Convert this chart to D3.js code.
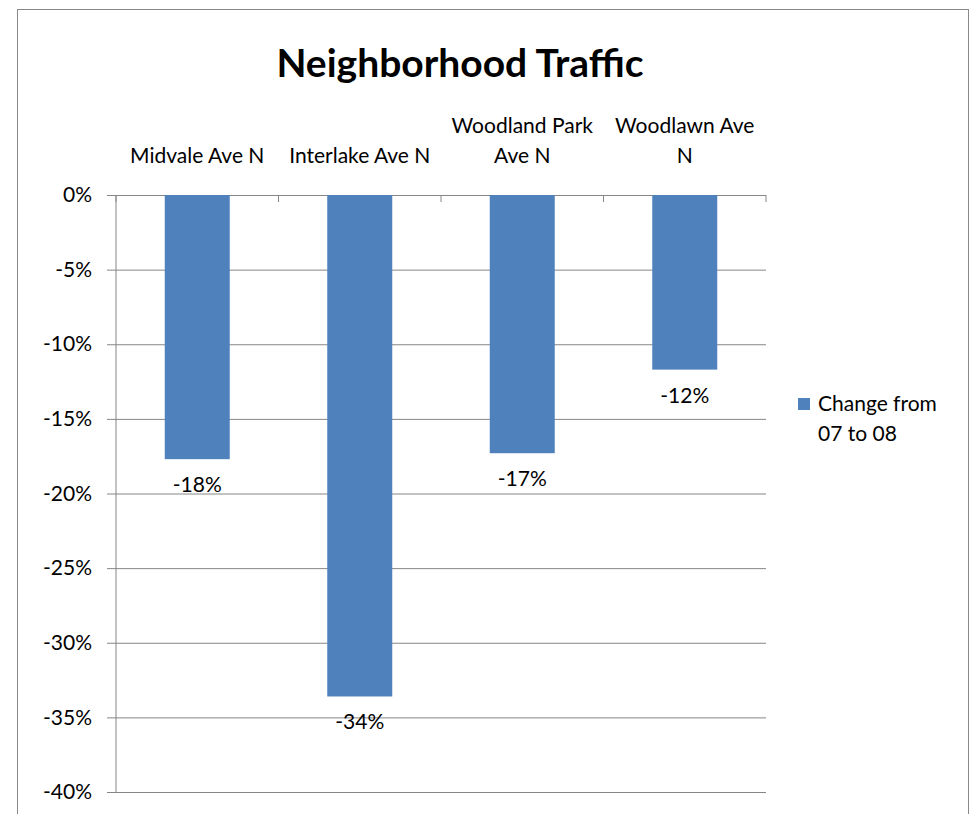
<!DOCTYPE html>
<html>
<head>
<meta charset="utf-8">
<script src="https://cdn.jsdelivr.net/npm/d3@7"></script>
<style>
  body { margin: 0; background: #fff; }
  text { font-family: Lato, "Open Sans", sans-serif; fill: #000; }
</style>
</head>
<body>
<svg id="chart" width="973" height="814"></svg>
<script>
// street names, each split into the lines Excel wrapped them to
const categories = ["Midvale Ave N", "Interlake Ave N", "Woodland Park Ave N", "Woodlawn Ave N"];
const categoryLines = [["Midvale Ave N"], ["Interlake Ave N"], ["Woodland Park", "Ave N"], ["Woodlawn Ave", "N"]];
const changeValues = [-17.7, -33.6, -17.3, -11.7];
const valueLabels = ["-18%", "-34%", "-17%", "-12%"];
const yTicks = [0, -5, -10, -15, -20, -25, -30, -35, -40];
const seriesName = ["Change from", "07 to 08"];

const svg = d3.select("#chart");
const barColor = "#4f81bd";

// outer chart frame
svg.append("rect")
  .attr("x", 17.5).attr("y", 9.5)
  .attr("width", 951).attr("height", 830)
  .attr("fill", "none").attr("stroke", "#888");

svg.append("text")
  .attr("x", 460).attr("y", 77)
  .attr("text-anchor", "middle")
  .attr("font-size", 39).attr("font-weight", "bold")
  .text("Neighborhood Traffic");

const plot = { left: 116, right: 766, top: 195, bottom: 792 };

const x = d3.scaleBand()
  .domain(categories)
  .range([plot.left, plot.right])
  .paddingInner(0.6).paddingOuter(0.3);

const y = d3.scaleLinear()
  .domain([0, -40])
  .range([plot.top, plot.bottom]);

// gridlines + y ticks
const yAxis = svg.append("g")
  .attr("transform", `translate(${plot.left},0)`)
  .call(d3.axisLeft(y).tickValues(yTicks).tickFormat(d => d + "%")
    .tickSize(-(plot.right - plot.left)).tickPadding(24));
yAxis.select(".domain").remove();
yAxis.selectAll(".tick line")
  .attr("stroke", "#868686").attr("x1", -9);
yAxis.selectAll(".tick text")
  .attr("font-size", 21).attr("font-family", "Lato, sans-serif").attr("fill", "#000");

svg.append("line")
  .attr("x1", plot.left).attr("x2", plot.left)
  .attr("y1", plot.top).attr("y2", plot.bottom)
  .attr("stroke", "#868686");

// category tick marks on the 0% line
const bounds = categories.map((c, i) => plot.left + i * (plot.right - plot.left) / categories.length)
  .concat([plot.right]);
svg.append("g").selectAll("line")
  .data(bounds)
  .join("line")
  .attr("x1", d => d).attr("x2", d => d)
  .attr("y1", plot.top).attr("y2", plot.top + 7)
  .attr("stroke", "#868686");

// bars
svg.append("g").selectAll("rect")
  .data(changeValues)
  .join("rect")
  .attr("x", (d, i) => x(categories[i]))
  .attr("width", x.bandwidth())
  .attr("y", y(0))
  .attr("height", d => y(d) - y(0))
  .attr("fill", barColor);

// value labels below bar ends
svg.append("g").selectAll("text")
  .data(changeValues)
  .join("text")
  .attr("x", (d, i) => x(categories[i]) + x.bandwidth() / 2)
  .attr("y", d => y(d) + 33)
  .attr("text-anchor", "middle")
  .attr("font-size", 21)
  .text((d, i) => valueLabels[i]);

// category labels above the plot
const catG = svg.append("g").selectAll("text")
  .data(categoryLines)
  .join("text")
  .attr("x", (d, i) => x(categories[i]) + x.bandwidth() / 2)
  .attr("text-anchor", "middle")
  .attr("font-size", 21);
catG.selectAll("tspan")
  .data(d => d.map((t, j) => ({ t, j, n: d.length })))
  .join("tspan")
  .attr("x", function () { return this.parentNode.getAttribute("x"); })
  .attr("y", d => 163 - (d.n - 1 - d.j) * 30)
  .text(d => d.t);

// legend
const legend = svg.append("g").attr("transform", "translate(798,398)");
legend.append("rect")
  .attr("width", 12).attr("height", 12)
  .attr("fill", barColor);
legend.selectAll("text")
  .data(seriesName)
  .join("text")
  .attr("x", 20)
  .attr("y", (d, i) => 13 + i * 30)
  .attr("font-size", 21)
  .text(d => d);
</script>
</body>
</html>
